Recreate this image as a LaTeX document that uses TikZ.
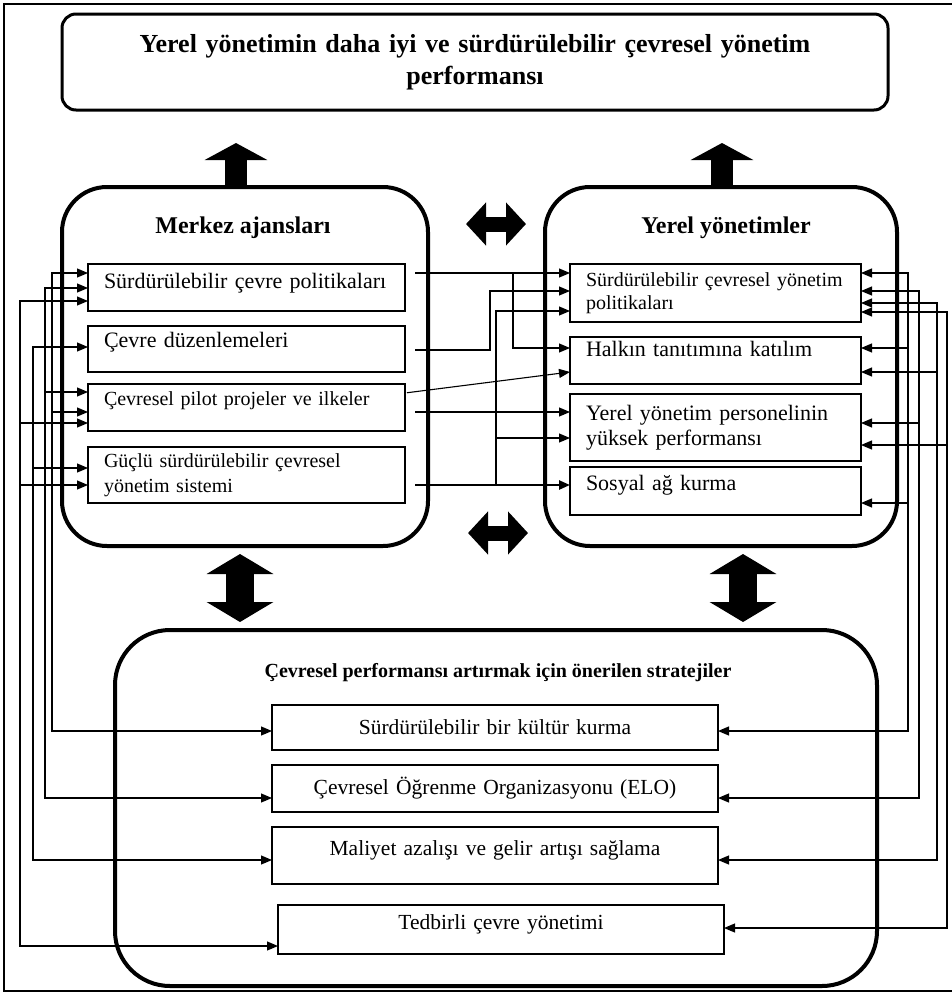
\documentclass[tikz,border=0pt]{standalone}
\usepackage{fontspec}
\setmainfont{Liberation Serif}
\usetikzlibrary{arrows.meta}

\newcommand{\fsz}[2]{\fontsize{#1}{#2}\selectfont}

\tikzset{
  >={Triangle[length=11pt,width=9pt]},
  link/.style={line width=1.1pt},
  bigbox/.style={draw, line width=4pt, anchor=north west, outer sep=0pt},
  item/.style={draw, line width=1.3pt, anchor=north west, outer sep=0pt, inner xsep=16pt, inner ysep=2pt, align=left},
  plan/.style={draw, line width=1.3pt, anchor=north west, outer sep=0pt, inner xsep=16pt, inner ysep=2pt, text width=414pt, align=center, font=\fsz{21.5}{24}},
  head/.style={font=\bfseries\fsz{24}{28}},
  raise/.style={text depth=#1},
  blockup/.style={line width=22pt, -{Triangle[length=17pt,width=62pt]}},
  blockhor/.style={line width=15pt, {Triangle[length=20pt,width=42pt]}-{Triangle[length=20pt,width=42pt]}},
  blockver/.style={line width=28pt, {Triangle[length=20pt,width=66pt]}-{Triangle[length=20pt,width=66pt]}},
}

\begin{document}
\begin{tikzpicture}[x=1pt,y=-1pt]
	\useasboundingbox (0,0) rectangle (952,994);
	\draw[line width=2pt] (4,4) rectangle (962,991);

	\node[draw, line width=3pt, rounded corners=14pt, outer sep=0pt, minimum width=826pt, minimum height=96pt,
	      text width=790pt, align=center, font=\bfseries\fsz{26}{32}] (goal) at (475,62)
	      {Yerel yönetimin daha iyi ve sürdürülebilir çevresel yönetim\\performansı};

	\node[bigbox, rounded corners=45pt, minimum width=366pt, minimum height=359pt] (merkez) at (62,187) {};
	\node[bigbox, rounded corners=45pt, minimum width=352pt, minimum height=359pt] (yerel) at (545,187) {};
	\node[bigbox, rounded corners=55pt, minimum width=762pt, minimum height=356pt] (strat) at (115,630) {};

	\node[head] (merkezT) at (243,228) {Merkez ajansları};
	\node[head] (yerelT) at (726,228) {Yerel yönetimler};
	\node[font=\bfseries\fsz{20}{24}] (stratT) at (498,673) {Çevresel performansı artırmak için önerilen stratejiler};

	% merkez ajanslari
	\node[item, raise=13pt, font=\fsz{22}{25}, text width=285pt, minimum height=47pt] (m1) at (88,264) {Sürdürülebilir çevre politikaları};
	\node[item, raise=19pt, font=\fsz{22}{25}, text width=285pt, minimum height=46pt] (m2) at (88,326) {Çevre düzenlemeleri};
	\node[item, raise=18pt, font=\fsz{20}{24}, text width=285pt, minimum height=47pt] (m3) at (88,384) {Çevresel pilot projeler ve ilkeler};
	\node[item, font=\fsz{20}{25}, text width=285pt, minimum height=56pt] (m4) at (88,447) {Güçlü sürdürülebilir çevresel\\yönetim sistemi};

	% yerel yonetimler
	\node[item, font=\fsz{20}{23}, text width=259pt, minimum height=58pt] (y1) at (570,264) {Sürdürülebilir çevresel yönetim\\politikaları};
	\node[item, raise=24pt, font=\fsz{22}{25}, text width=259pt, minimum height=47pt] (y2) at (570,337) {Halkın tanıtımına katılım};
	\node[item, font=\fsz{22}{25}, text width=259pt, minimum height=67pt] (y3) at (570,394) {Yerel yönetim personelinin\\yüksek performansı};
	\node[item, raise=17pt, font=\fsz{22}{25}, text width=259pt, minimum height=48pt] (y4) at (570,467) {Sosyal ağ kurma};

	% stratejiler
	\node[plan, minimum height=45pt] (s1) at (272,705) {Sürdürülebilir bir kültür kurma};
	\node[plan, minimum height=47pt] (s2) at (272,765) {Çevresel Öğrenme Organizasyonu (ELO)};
	\node[plan, raise=15pt, minimum height=57pt] (s3) at (272,827) {Maliyet azalışı ve gelir artışı sağlama};
	\node[plan, raise=14pt, minimum height=49pt] (s4) at (278,905) {Tedbirli çevre yönetimi};

	% block arrows
	\draw[blockup, shorten >=33pt] (merkez.north -| 236,0) -- (goal.south -| 236,0);
	\draw[blockup, shorten >=33pt] (yerel.north -| 722,0) -- (goal.south -| 722,0);
	\draw[blockhor, shorten <=38pt, shorten >=19pt] (merkez.east |- 0,224) -- (yerel.west |- 0,224);
	\draw[blockhor, shorten <=40pt, shorten >=17pt] (merkez.east |- 0,533) -- (yerel.west |- 0,533);
	\draw[blockver, shorten <=8pt, shorten >=8pt] (merkez.south -| 240,0) -- (strat.north -| 240,0);
	\draw[blockver, shorten <=8pt, shorten >=8pt] (yerel.south -| 743,0) -- (strat.north -| 743,0);

	% left feedback lines
	\draw[link,<->] (m1.west |- 0,273) -| (52,731) -- (s1.west |- 0,731);
	\draw[link,->] (52,412) -- (m3.west |- 0,412);
	\draw[link,<->] (m1.west |- 0,288) -| (45,798) -- (s2.west |- 0,798);
	\draw[link,->] (45,392) -- (m3.west |- 0,392);
	\draw[link,<->] (m2.west |- 0,347) -| (33,860) -- (s3.west |- 0,860);
	\draw[link,->] (33,468) -- (m4.west |- 0,468);
	\draw[link,<->] (m1.west |- 0,301) -| (20,946) -- (s4.west |- 0,946);
	\draw[link,->] (20,423) -- (m3.west |- 0,423);
	\draw[link,->] (20,485) -- (m4.west |- 0,485);

	% right feedback lines
	\draw[link,<->] (y1.east |- 0,273) -| (908,731) -- (s1.east |- 0,731);
	\draw[link,->] (908,348) -- (y2.east |- 0,348);
	\draw[link,->] (908,503) -- (y4.east |- 0,503);
	\draw[link,<->] (y1.east |- 0,291) -| (919,798) -- (s2.east |- 0,798);
	\draw[link,->] (919,423) -- (y3.east |- 0,423);
	\draw[link,<->] (y1.east |- 0,303) -| (937,860) -- (s3.east |- 0,860);
	\draw[link,->] (937,372) -- (y2.east |- 0,372);
	\draw[link,<->] (y1.east |- 0,312) -| (947,928) -- (s4.east |- 0,928);
	\draw[link,->] (947,445) -- (y3.east |- 0,445);

	% merkez to yerel
	\draw[link,->,shorten <=10pt] (m1.east |- 0,273) -- (y1.west |- 0,273);
	\draw[link,->] (513,273) |- (y2.west |- 0,348);
	\draw[link,->,shorten <=10pt] (m2.east |- 0,350) -| (490,291) -- (y1.west |- 0,291);
	\draw[link,->,shorten <=2pt] (m3.east |- 0,393) -- (y2.west |- 0,372);
	\draw[link,->,shorten <=10pt] (m3.east |- 0,412) -- (y3.west |- 0,412);
	\draw[link,->,line width=2.4pt,shorten <=10pt] (m4.east |- 0,485) -- (y4.west |- 0,485);
	\draw[link,->] (496,485) |- (y3.west |- 0,438);
	\draw[link,->] (496,438) |- (y1.west |- 0,311);
\end{tikzpicture}
\end{document}
